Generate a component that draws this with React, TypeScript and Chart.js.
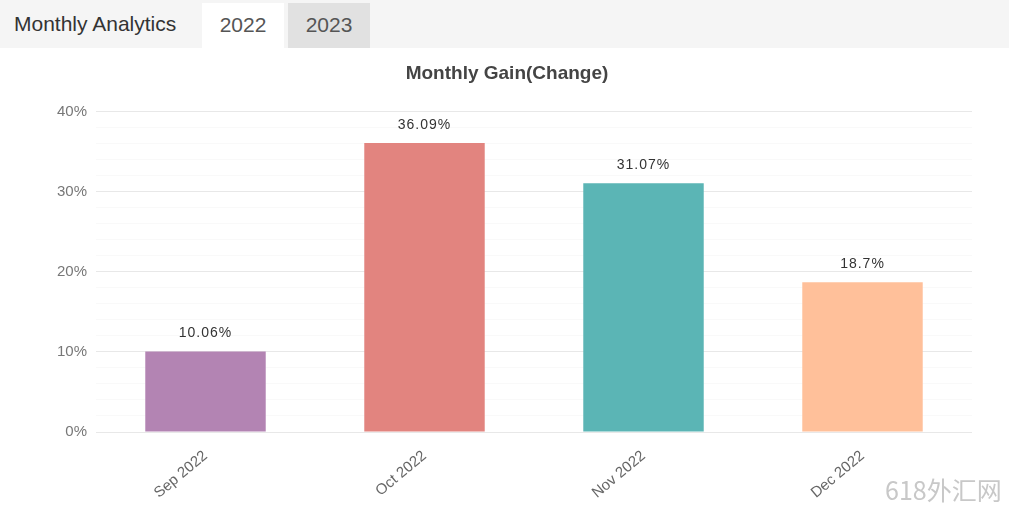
import React, { useEffect, useRef } from "react";
import { Chart, registerables } from "chart.js";

Chart.register(...registerables);

const categories = ["Sep 2022", "Oct 2022", "Nov 2022", "Dec 2022"];
const gains = [10.06, 36.09, 31.07, 18.7];
const gainLabels = ["10.06%", "36.09%", "31.07%", "18.7%"];
const barColors = ["#b384b3", "#e2847f", "#5bb5b5", "#ffc09a"];
const yMin = 0;
const yMax = 40;
const yStep = 2;
const yMajor = 10;

const valueLabelPlugin = {
  id: "valueLabels",
  afterDatasetsDraw(chart: any) {
    const ctx = chart.ctx;
    const meta = chart.getDatasetMeta(0);
    ctx.save();
    ctx.font = "14px 'Liberation Sans', Arial, sans-serif";
    try { (ctx as any).letterSpacing = "1px"; } catch (e) {}
    ctx.fillStyle = "#333";
    ctx.textAlign = "center";
    ctx.textBaseline = "middle";
    meta.data.forEach((bar: any, i: number) => {
      ctx.fillText(gainLabels[i], bar.x, bar.y - 18);
    });
    ctx.restore();
  },
};

export default function App() {
  const canvasRef = useRef<HTMLCanvasElement | null>(null);

  useEffect(() => {
    document.body.style.margin = "0";
    const c = canvasRef.current;
    if (!c) return;
    const chart = new Chart(c, {
      type: "bar",
      data: {
        labels: categories,
        datasets: [
          {
            data: gains,
            backgroundColor: barColors,
            borderWidth: 0,
            barPercentage: 0.55,
            categoryPercentage: 1,
          },
        ],
      },
      options: {
        animation: false,
        responsive: false,
        maintainAspectRatio: false,
        layout: { padding: { left: 42, right: 42, top: 0, bottom: 0 } },
        plugins: {
          legend: { display: false },
          tooltip: { enabled: false },
          title: {
            display: true,
            text: "Monthly Gain(Change)",
            color: "#444",
            font: { size: 19, weight: "bold", family: "'Liberation Sans', Arial, sans-serif" },
            padding: { top: 14, bottom: 27 },
          },
        },
        scales: {
          x: {
            grid: { display: false, drawTicks: false },
            border: { display: false },
            ticks: {
              color: "#666",
              font: { size: 15, family: "'Liberation Sans', Arial, sans-serif" },
              minRotation: 40,
              maxRotation: 40,
              padding: 15,
            },
            afterFit(scale: any) {
              scale.height = 79;
            },
          },
          y: {
            min: yMin,
            max: yMax,
            border: { display: false },
            grid: {
              drawTicks: false,
              color: (ctx: any) =>
                ctx.tick && ctx.tick.value % yMajor === 0 ? "#e8e8e8" : "#f9f9f9",
              lineWidth: 1,
            },
            ticks: {
              stepSize: yStep,
              autoSkip: false,
              color: "#777",
              font: { size: 15, family: "'Liberation Sans', Arial, sans-serif" },
              padding: 9,
              callback: (v: any) => (Number(v) % yMajor === 0 ? v + "%" : ""),
            },
            afterFit(scale: any) {
              scale.width = 54;
            },
          },
        },
      },
      plugins: [valueLabelPlugin],
    } as any);
    return () => chart.destroy();
  }, []);

  const font = "'Liberation Sans', Arial, sans-serif";

  return (
    <div style={{ position: "relative", width: 1014, height: 511, background: "#fff", overflow: "hidden", fontFamily: font }}>
      <div style={{ position: "absolute", left: 0, top: 0, width: 1009, height: 48, background: "#f5f5f5" }} />
      <div style={{ position: "absolute", left: 14, top: 0, height: 48, lineHeight: "48px", fontSize: 21, color: "#333" }}>
        Monthly Analytics
      </div>
      <div style={{ position: "absolute", left: 202, top: 3, width: 82, height: 45, background: "#fff", color: "#555", fontSize: 21, lineHeight: "44px", textAlign: "center" }}>
        2022
      </div>
      <div style={{ position: "absolute", left: 288, top: 3, width: 82, height: 45, background: "#e1e1e1", color: "#555", fontSize: 21, lineHeight: "44px", textAlign: "center" }}>
        2023
      </div>
      <canvas ref={canvasRef} width={1014} height={463} style={{ position: "absolute", left: 0, top: 48, width: 1014, height: 463 }} />
      <div style={{ position: "absolute", left: 885, top: 472, fontSize: 25, color: "#c8c8c8", fontFamily: "'Noto Sans CJK SC', sans-serif", lineHeight: "34px", whiteSpace: "nowrap" }}>
        618外汇网
      </div>
    </div>
  );
}
